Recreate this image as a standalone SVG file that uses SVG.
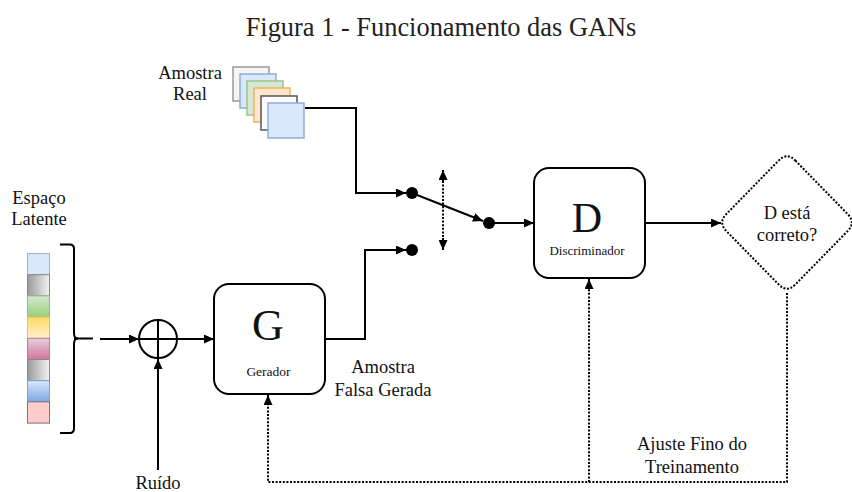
<svg xmlns="http://www.w3.org/2000/svg" width="852" height="492" viewBox="0 0 852 492">
<defs>
<style>
text{font-family:"Liberation Serif","Times New Roman",serif;fill:#111;}
.lbl{font-size:18.5px;text-anchor:middle;}
.ln{fill:none;stroke:#000;stroke-width:2;}
.dot{fill:none;stroke:#000;stroke-width:2;stroke-dasharray:2 1.6;}
.box{fill:#fff;stroke:#000;stroke-width:2;}
.cell{stroke-width:1;}
.sq{stroke-width:1.5;}
</style>
<marker id="ah" markerUnits="userSpaceOnUse" markerWidth="11" markerHeight="9" refX="10" refY="4.5" orient="auto">
<path d="M0,0 L10,4.5 L0,9 z" fill="#000"/>
</marker>
<linearGradient id="gGray" x1="0" y1="0" x2="1" y2="0"><stop offset="0" stop-color="#9a9a9a"/><stop offset="1" stop-color="#f2f2f2"/></linearGradient>
<linearGradient id="gGreen" x1="0" y1="0" x2="0" y2="1"><stop offset="0" stop-color="#d5e8d4"/><stop offset="1" stop-color="#97d077"/></linearGradient>
<linearGradient id="gYellow" x1="0" y1="0" x2="0" y2="1"><stop offset="0" stop-color="#ffd966"/><stop offset="1" stop-color="#fff2cc"/></linearGradient>
<linearGradient id="gPink" x1="0" y1="0" x2="0" y2="1"><stop offset="0" stop-color="#e6d0de"/><stop offset="1" stop-color="#d5739d"/></linearGradient>
<linearGradient id="gBlue" x1="0" y1="0" x2="0" y2="1"><stop offset="0" stop-color="#dae8fc"/><stop offset="1" stop-color="#7ea6e0"/></linearGradient>
</defs>
<rect width="852" height="492" fill="#fff"/>

<text x="441" y="36" style="font-size:26.4px;text-anchor:middle;fill:#222;">Figura 1 - Funcionamento das GANs</text>

<g id="amostra-real">
<rect class="sq" x="233" y="67" width="36" height="34" fill="#f5f5f5" stroke="#999"/>
<rect class="sq" x="240" y="74" width="36" height="34" fill="#dae8fc" stroke="#8eaed8"/>
<rect class="sq" x="247" y="81" width="36" height="34" fill="#d5e8d4" stroke="#9cc48a"/>
<rect class="sq" x="254" y="88" width="36" height="34" fill="#ffe6cc" stroke="#e8b860"/>
<rect class="sq" x="261" y="96" width="36" height="34" fill="#fafafa" stroke="#555"/>
<rect class="sq" x="268" y="103" width="36" height="35" fill="#dae8fc" stroke="#8eaed8"/>
<text class="lbl" x="190" y="79">Amostra</text>
<text class="lbl" x="190" y="100">Real</text>
</g>

<g id="espaco-latente">
<text class="lbl" x="39" y="204">Espaço</text>
<text class="lbl" x="39" y="225">Latente</text>
<rect class="cell" x="27.5" y="253.5" width="22" height="21.2" fill="#dae8fc" stroke="#9ab4dc"/>
<rect class="cell" x="27.5" y="274.7" width="22" height="21.2" fill="url(#gGray)" stroke="#888"/>
<rect class="cell" x="27.5" y="295.9" width="22" height="21.2" fill="url(#gGreen)" stroke="#8fbf7a"/>
<rect class="cell" x="27.5" y="317.1" width="22" height="21.2" fill="url(#gYellow)" stroke="#e0c070"/>
<rect class="cell" x="27.5" y="338.3" width="22" height="21.2" fill="url(#gPink)" stroke="#b87a9a"/>
<rect class="cell" x="27.5" y="359.5" width="22" height="21.2" fill="url(#gGray)" stroke="#888"/>
<rect class="cell" x="27.5" y="380.7" width="22" height="21.2" fill="url(#gBlue)" stroke="#7e9fd0"/>
<rect class="cell" x="27.5" y="401.9" width="22" height="21.2" fill="#ffcccc" stroke="#777"/>
<path class="ln" d="M60,244.5 H70 Q74,244.5 74,249 V333 Q74,338.5 78,338.5 Q74,338.5 74,344 V428 Q74,433 70,433 H60"/>
</g>

<g id="soma">
<circle cx="158" cy="339" r="19" class="box"/>
<path class="ln" d="M139,339 H177 M158,320 V358"/>
</g>

<g id="gerador">
<rect class="box" x="214" y="284" width="111" height="110" rx="15"/>
<text x="268" y="340" style="font-size:44px;text-anchor:middle;">G</text>
<text x="268.5" y="376" style="font-size:13.5px;text-anchor:middle;">Gerador</text>
</g>

<g id="discriminador">
<rect class="box" x="534" y="168" width="111" height="110" rx="15"/>
<text x="587" y="232" style="font-size:42px;text-anchor:middle;">D</text>
<text x="587" y="255" style="font-size:13px;text-anchor:middle;">Discriminador</text>
</g>

<g id="decisao">
<path class="dot" d="M795.4,160.6 L847.6,214 Q856,222.5 847.6,231.1 L795.4,284.4 Q787,293 778.6,284.4 L726.4,231.1 Q718,222.5 726.4,214 L778.6,160.6 Q787,152 795.4,160.6 Z" fill="#fff"/>
<text class="lbl" x="787" y="219">D está</text>
<text class="lbl" x="787" y="241">correto?</text>
</g>

<g id="chave">
<circle cx="412" cy="193" r="6" fill="#000"/>
<circle cx="412" cy="250" r="6" fill="#000"/>
<circle cx="489" cy="223" r="6" fill="#000"/>
</g>

<g id="rotulos">
<text class="lbl" x="383" y="373">Amostra</text>
<text class="lbl" x="383" y="396">Falsa Gerada</text>
<text class="lbl" x="158" y="489">Ruído</text>
<text class="lbl" x="692" y="450">Ajuste Fino do</text>
<text class="lbl" x="692" y="473">Treinamento</text>
</g>

<g id="conectores">
<path class="ln" d="M305,108 H356 V193 H406" marker-end="url(#ah)"/>
<path class="ln" d="M325,339 H365 V250 H406" marker-end="url(#ah)"/>
<path class="ln" d="M412,193 L483,221" marker-end="url(#ah)"/>
<path class="ln" d="M489,223 H534" marker-end="url(#ah)"/>
<path class="dot" d="M443,181 V239"/>
<path class="ln" d="M443,182 V170" marker-end="url(#ah)"/>
<path class="ln" d="M443,238 V250" marker-end="url(#ah)"/>
<path class="ln" d="M645,223 H721" marker-end="url(#ah)"/>
<path class="ln" d="M74,338.5 H93"/>
<path class="ln" d="M100,339 H139" marker-end="url(#ah)"/>
<path class="ln" d="M177,339 H214" marker-end="url(#ah)"/>
<path class="ln" d="M158,470 V359" marker-end="url(#ah)"/>
<path class="dot" d="M787,293 V482 H268 V396"/>
<path class="ln" d="M268,400 V395" marker-end="url(#ah)"/>
<path class="dot" d="M589,482 V281"/>
<path class="ln" d="M589,284 V279" marker-end="url(#ah)"/>
</g>
</svg>
